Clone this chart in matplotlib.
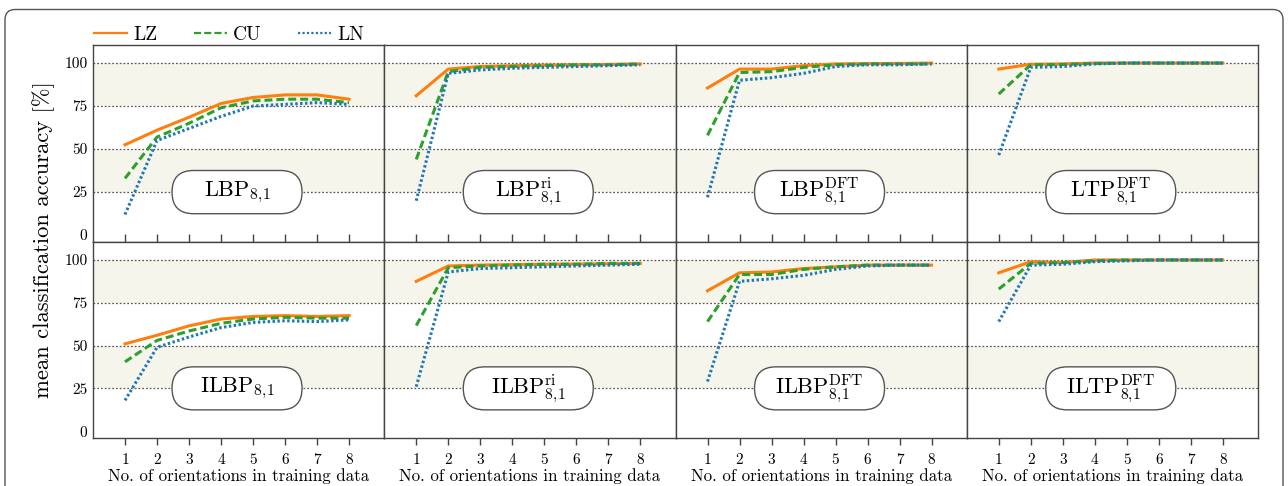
import matplotlib
matplotlib.use("Agg")
import matplotlib.pyplot as plt
from matplotlib.patches import FancyBboxPatch
from matplotlib.lines import Line2D

plt.rcParams['font.family'] = ['cmr10', 'DejaVu Serif']
plt.rcParams['mathtext.fontset'] = 'cm'
plt.rcParams['axes.unicode_minus'] = False

orientations = [1, 2, 3, 4, 5, 6, 7, 8]
series_names = ["LZ", "CU", "LN"]
panel_titles = [
    r"$\mathrm{LBP}_{8,\!1}$",
    r"$\mathrm{LBP}_{8,\!1}^{\mathrm{ri}}$",
    r"$\mathrm{LBP}_{8,\!1}^{\mathrm{DFT}}$",
    r"$\mathrm{LTP}_{8,\!1}^{\mathrm{DFT}}$",
    r"$\mathrm{ILBP}_{8,\!1}$",
    r"$\mathrm{ILBP}_{8,\!1}^{\mathrm{ri}}$",
    r"$\mathrm{ILBP}_{8,\!1}^{\mathrm{DFT}}$",
    r"$\mathrm{ILTP}_{8,\!1}^{\mathrm{DFT}}$",
]

# LBP_8,1
lbp_lz = [52.5, 61, 68.5, 76.5, 80, 81.5, 81.5, 79]
lbp_cu = [33, 57, 65, 74, 78, 79, 79, 77]
lbp_ln = [12, 55, 62, 69, 75, 76, 77, 76]
# LBP ri
lbpri_lz = [81, 96.5, 98, 98.5, 98.8, 99, 99.2, 99.5]
lbpri_cu = [44, 95, 97.5, 98, 98.5, 99, 99, 99.5]
lbpri_ln = [20, 94, 96, 97, 97.5, 98, 98.5, 99]
# LBP DFT
lbpdft_lz = [85.5, 96.5, 96.5, 98.5, 99.5, 99.7, 99.8, 100]
lbpdft_cu = [58, 94.5, 95, 97.5, 99, 99.5, 99.5, 99.5]
lbpdft_ln = [22, 90, 91.5, 94, 98, 99, 99, 99.5]
# LTP DFT
ltpdft_lz = [96.5, 99.3, 99.5, 100, 100, 100, 100, 100]
ltpdft_cu = [82, 99, 99.2, 99.8, 100, 100, 100, 100]
ltpdft_ln = [46.5, 97.5, 98, 99.5, 100, 100, 100, 100]
# ILBP_8,1
ilbp_lz = [51, 56, 61.5, 65.5, 67, 67.5, 67, 67.5]
ilbp_cu = [40.5, 53, 58.5, 63, 65.5, 66.5, 66, 66]
ilbp_ln = [18, 49, 55, 60.5, 63.5, 64.5, 64, 65]
# ILBP ri
ilbpri_lz = [87.5, 96.5, 97, 97.3, 97.5, 97.6, 97.8, 98]
ilbpri_cu = [61.7, 95.5, 96.5, 97, 97.5, 97.5, 98, 98]
ilbpri_ln = [26, 93, 95, 95.5, 96, 96.5, 97, 97.5]
# ILBP DFT
ilbpdft_lz = [82, 92.5, 93, 95, 96, 97, 97, 97]
ilbpdft_cu = [64, 91.5, 91.5, 94.5, 96, 97, 97, 97]
ilbpdft_ln = [29, 87.5, 89, 91, 94.5, 96.5, 97, 97]
# ILTP DFT
iltpdft_lz = [92.5, 99, 98.5, 100, 100, 100, 100, 100]
iltpdft_cu = [83, 98, 98.5, 99.5, 100, 100, 100, 100]
iltpdft_ln = [64, 97, 97.5, 99, 99.5, 100, 100, 100]

panels = [
    (lbp_lz, lbp_cu, lbp_ln),
    (lbpri_lz, lbpri_cu, lbpri_ln),
    (lbpdft_lz, lbpdft_cu, lbpdft_ln),
    (ltpdft_lz, ltpdft_cu, ltpdft_ln),
    (ilbp_lz, ilbp_cu, ilbp_ln),
    (ilbpri_lz, ilbpri_cu, ilbpri_ln),
    (ilbpdft_lz, ilbpdft_cu, ilbpdft_ln),
    (iltpdft_lz, iltpdft_cu, iltpdft_ln),
]

colors = ["#ff7f0e", "#2ca02c", "#1f77b4"]
styles = [dict(ls="-"), dict(ls=(0, (2.6, 1.3))), dict(ls=(0, (0.8, 0.8)))]
yticks = [0, 25, 50, 75, 100]

W, H = 1288, 486
fig = plt.figure(figsize=(W / 100, H / 100), dpi=100)
left, right = 93 / W, 1258 / W
top, mid, bot = 1 - 45 / H, 1 - 242 / H, 1 - 438 / H
pw = (right - left) / 4

# outer rounded frame
frame = FancyBboxPatch((5 / W, -0.2), 1278 / W, (1 - 9.5 / H) + 0.2,
                       boxstyle="round,pad=0,rounding_size=%f" % (10 / W),
                       mutation_aspect=W / H, transform=fig.transFigure,
                       fc="none", ec="#555555", lw=1.0, clip_on=False)
fig.add_artist(frame)

axes = []
for i in range(8):
    r, c = divmod(i, 4)
    y0 = mid if r == 0 else bot
    ax = fig.add_axes([left + c * pw, y0, pw, top - mid if r == 0 else mid - bot])
    axes.append(ax)
    ax.set_xlim(0, 9.1)
    ax.set_ylim(-4, 110.5)
    ax.axhspan(25, 50, color="#f6f5ec", lw=0, zorder=0)
    ax.axhspan(75, 100, color="#f6f5ec", lw=0, zorder=0)
    for yv in [25, 50, 75, 100]:
        ax.axhline(yv, color="#555555", lw=0.9, ls=(0, (1.4, 1.6)), zorder=1)
    for k, vals in enumerate(panels[i]):
        ax.plot(orientations, vals, color=colors[k], lw=2.2, zorder=3,
                label=series_names[k], **styles[k])
    # label box
    bw, bh = 130 / 291.25, 43 / 196.0
    cx = 4.5 / 9.1
    cy = (25 + 4) / 114.5
    box = FancyBboxPatch((cx - bw / 2, cy - bh / 2), bw, bh,
                         boxstyle="round,pad=0,rounding_size=%f" % (21.5 / 291.25),
                         mutation_aspect=291.25 / 196.0,
                         transform=ax.transAxes, fc="white", ec="#555555",
                         lw=1.0, zorder=4)
    ax.add_patch(box)
    ax.text(cx, cy, panel_titles[i], transform=ax.transAxes, ha="center",
            va="center", fontsize=16, zorder=5)
    for s in ax.spines.values():
        s.set_color("#444444")
        s.set_linewidth(1.0)
    ax.set_yticks(yticks)
    ax.set_xticks(orientations)
    ax.tick_params(axis="y", length=0, labelsize=11, pad=4)
    if c != 0:
        ax.set_yticklabels([])
    if r == 0:
        ax.tick_params(axis="x", direction="inout", length=11, width=1,
                       color="#444444", labelbottom=False)
    else:
        ax.tick_params(axis="x", direction="out", length=5, width=1,
                       color="#444444", labelsize=11, pad=6)
        ax.set_xlabel("No. of orientations in training data", fontsize=12.2,
                      labelpad=1)

fig.text(0.034, 1 - 240 / H, "mean classification accuracy [%]", rotation=90,
         ha="center", va="center", fontsize=16.3)

leg_styles = [dict(ls="-"), dict(ls=(0, (3.2, 1.4))), dict(ls=(0, (1.0, 1.0)))]
handles = [Line2D([], [], color=colors[k], lw=1.6, **leg_styles[k]) for k in range(3)]
fig.legend(handles, series_names, loc="center left", ncol=3, frameon=False,
           bbox_to_anchor=(94 / W, 1 - 35 / H), fontsize=14, handlelength=1.7,
           columnspacing=1.9, handletextpad=0.3, borderaxespad=0, borderpad=0)

fig.savefig("out.png", dpi=100)
